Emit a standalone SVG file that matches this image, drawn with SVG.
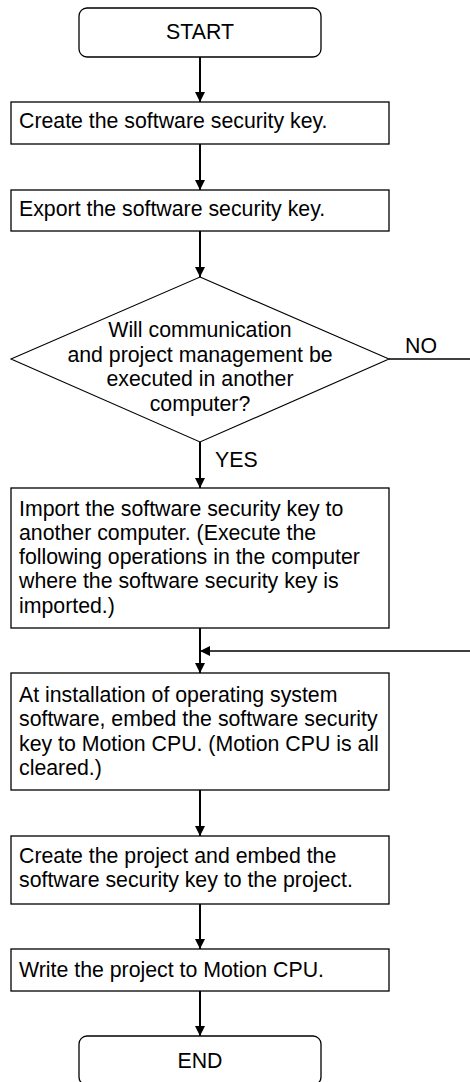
<svg xmlns="http://www.w3.org/2000/svg" width="470" height="1082" viewBox="0 0 470 1082">
<style>
.box{fill:#fff;stroke:#000;stroke-width:1.3}
.dia{fill:#fff;stroke:#000;stroke-width:1.1}
text{font-family:"Liberation Sans",Arial,sans-serif;font-size:21.3px;fill:#000}
.c{text-anchor:middle}
.ln{stroke:#000;stroke-width:2;fill:none}
.hl{stroke:#000;stroke-width:1.3;fill:none}
</style>
<defs>
<marker id="ah" markerWidth="10" markerHeight="10" viewBox="0 0 10 10" refX="10" refY="5" orient="auto" markerUnits="userSpaceOnUse">
<path d="M0,0 L10,5 L0,10 Z" fill="#000"/>
</marker>
</defs>
<g id="connectors">
<line class="ln" x1="200" y1="57" x2="200" y2="102" marker-end="url(#ah)"/>
<line class="ln" x1="200" y1="144" x2="200" y2="190" marker-end="url(#ah)"/>
<line class="ln" x1="200" y1="231" x2="200" y2="277" marker-end="url(#ah)"/>
<line class="ln" x1="200" y1="442" x2="200" y2="488" marker-end="url(#ah)"/>
<line class="ln" x1="200" y1="628" x2="200" y2="673" marker-end="url(#ah)"/>
<line class="hl" x1="389" y1="359" x2="470" y2="359"/>
<line class="hl" x1="470" y1="651" x2="200" y2="651" marker-end="url(#ah)"/>
<line class="ln" x1="200" y1="790" x2="200" y2="836" marker-end="url(#ah)"/>
<line class="ln" x1="200" y1="904" x2="200" y2="949" marker-end="url(#ah)"/>
<line class="ln" x1="200" y1="991" x2="200" y2="1036" marker-end="url(#ah)"/>
<text x="405" y="353">NO</text>
<text x="215" y="467">YES</text>
</g>
<g id="start">
<rect class="box" x="79" y="8" width="242" height="49" rx="8"/>
<text class="c" x="200" y="39">START</text>
</g>
<g id="create-key">
<rect class="box" x="11" y="102" width="378" height="42"/>
<text x="19" y="128.3">Create the software security key.</text>
</g>
<g id="export-key">
<rect class="box" x="11" y="190" width="378" height="41"/>
<text x="19" y="216.3">Export the software security key.</text>
</g>
<g id="decision">
<polygon class="dia" points="200,277 389,359 200,442 11,359"/>
<text class="c" x="200" y="337">Will communication</text>
<text class="c" x="200" y="361.5">and project management be</text>
<text class="c" x="200" y="386">executed in another</text>
<text class="c" x="200" y="410.5">computer?</text>
</g>
<g id="import-key">
<rect class="box" x="11" y="488" width="378" height="140"/>
<text x="19" y="515.5">Import the software security key to</text>
<text x="19" y="539.75">another computer. (Execute the</text>
<text x="19" y="564">following operations in the computer</text>
<text x="19" y="588.25">where the software security key is</text>
<text x="19" y="612.5">imported.)</text>
</g>
<g id="embed-cpu">
<rect class="box" x="11" y="673" width="378" height="117"/>
<text x="19" y="702">At installation of operating system</text>
<text x="19" y="726.4">software, embed the software security</text>
<text x="19" y="750.8">key to Motion CPU. (Motion CPU is all</text>
<text x="19" y="775.2">cleared.)</text>
</g>
<g id="create-project">
<rect class="box" x="11" y="836" width="378" height="68"/>
<text x="19" y="863">Create the project and embed the</text>
<text x="19" y="887">software security key to the project.</text>
</g>
<g id="write-project">
<rect class="box" x="11" y="949" width="378" height="42"/>
<text x="19" y="976.7">Write the project to Motion CPU.</text>
</g>
<g id="end">
<rect class="box" x="79" y="1036" width="242" height="49" rx="8"/>
<text class="c" x="200" y="1067.7">END</text>
</g>
</svg>
